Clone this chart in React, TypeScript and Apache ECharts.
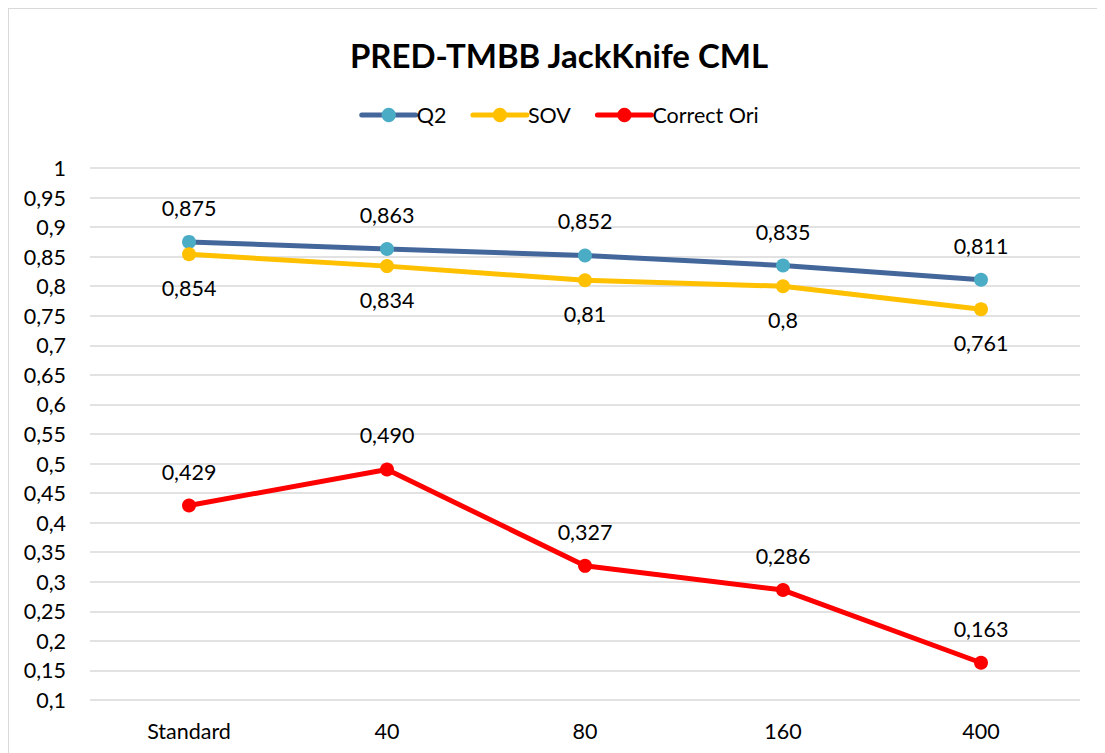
import React, { useEffect, useRef } from "react";
import * as echarts from "echarts";

const categories = ["Standard", "40", "80", "160", "400"];
const q2 = [0.875, 0.863, 0.852, 0.835, 0.811];
const sov = [0.854, 0.834, 0.81, 0.8, 0.761];
const correctOri = [0.429, 0.49, 0.327, 0.286, 0.163];
const q2Labels = ["0,875", "0,863", "0,852", "0,835", "0,811"];
const sovLabels = ["0,854", "0,834", "0,81", "0,8", "0,761"];
const oriLabels = ["0,429", "0,490", "0,327", "0,286", "0,163"];

const FONT = "Lato, 'Open Sans', sans-serif";
const FS = 21.5;

export default function App() {
  const ref = useRef<HTMLDivElement>(null);
  useEffect(() => {
    if (!ref.current) return;
    const chart = echarts.init(ref.current, undefined, { renderer: "svg" });
    const mk = (
      name: string,
      data: number[],
      labels: string[],
      lineColor: string,
      markColor: string,
      pos: "top" | "bottom"
    ) => ({
      name,
      type: "line",
      data,
      symbol: "circle",
      symbolSize: 14,
      lineStyle: { color: lineColor, width: 5 },
      itemStyle: { color: markColor },
      label: {
        show: true,
        position: pos,
        distance: 16,
        formatter: (p: any) => labels[p.dataIndex],
        fontSize: FS,
        fontFamily: FONT,
        color: "#000",
      },
    });
    chart.setOption({
      animation: false,
      backgroundColor: "#fff",
      title: {
        text: "PRED-TMBB JackKnife CML",
        left: "center",
        top: 24,
        textStyle: { fontSize: 33, fontWeight: "bold", fontFamily: FONT, color: "#000" },
      },
      legend: {
        top: 90,
        left: "center",
        itemWidth: 54,
        itemHeight: 18,
        itemGap: 24,
        lineStyle: { width: 5, cap: "round" },
        textStyle: { fontSize: FS, fontFamily: FONT, color: "#000", padding: [0, 0, 0, -4] },
        data: ["Q2", "SOV", "Correct Ori"],
      },
      grid: { left: 81, right: 29, top: 159, bottom: 59, containLabel: false },
      xAxis: {
        type: "category",
        data: categories,
        boundaryGap: true,
        axisLine: { show: false },
        axisTick: { show: false },
        axisLabel: { fontSize: FS, fontFamily: FONT, color: "#000", margin: 20 },
      },
      yAxis: {
        type: "value",
        min: 0.1,
        max: 1,
        interval: 0.05,
        axisLine: { show: false },
        axisTick: { show: false },
        splitLine: { lineStyle: { color: "#d9d9d9", width: 1.5 } },
        axisLabel: {
          fontSize: FS,
          fontFamily: FONT,
          color: "#000",
          margin: 24,
          formatter: (v: number) => String(parseFloat(v.toFixed(2))).replace(".", ","),
        },
      },
      series: [
        mk("Q2", q2, q2Labels, "#43679b", "#4bacc6", "top"),
        mk("SOV", sov, sovLabels, "#ffc000", "#ffc000", "bottom"),
        mk("Correct Ori", correctOri, oriLabels, "#ff0000", "#ff0000", "top"),
      ],
    });
    return () => chart.dispose();
  }, []);
  return (
    <div
      ref={ref}
      style={{ width: 1100, height: 750, border: "1px solid #d9d9d9", background: "#fff" }}
    />
  );
}
